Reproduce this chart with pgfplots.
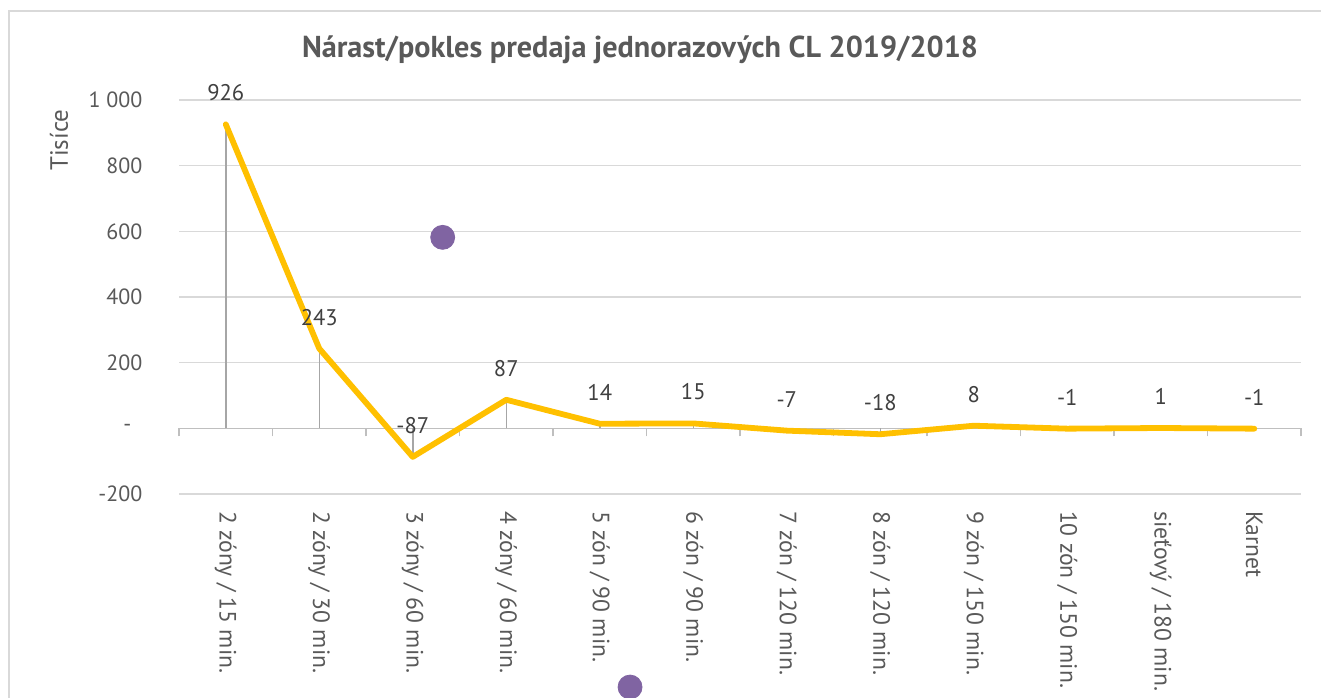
\documentclass[border=0pt]{standalone}
\usepackage{pgfplots}
\pgfplotsset{compat=1.18}
\usepackage{pgfplotstable}
\usepackage{fontspec}
\setmainfont{PT Sans}
\definecolor{txt}{HTML}{595959}
\definecolor{lab}{HTML}{404040}
\definecolor{gridc}{HTML}{D9D9D9}
\definecolor{axc}{HTML}{BFBFBF}
\definecolor{gold}{HTML}{FFC000}
\definecolor{purp}{HTML}{8064A2}
\definecolor{dropc}{HTML}{A6A6A6}

\pgfplotstableread{
x y lab
0 926 926
1 243 243
2 -87 -87
3 87 87
4 14 14
5 15 15
6 -7 -7
7 -18 -18
8 8 8
9 -1 -1
10 1 1
11 -1 -1
}\data

\pgfplotstableread{
x y
2.32 581.7
4.324 -788
}\extra

\begin{document}
\begin{tikzpicture}[x=1pt,y=1pt]
\clip (0,0) rectangle (660.5,348.5);
\fill[white] (0,0) rectangle (660.5,348.5);
\draw[gridc, line width=0.75pt] (4.5,-10) -- (4.5,343) -- (670,343);

\node[text=txt, font=\bfseries\fontsize{15.1}{17}\selectfont] at (320,323.5) {Nárast/pokles predaja jednorazových CL 2019/2018};
\node[text=txt, rotate=90, font=\fontsize{12.5}{14}\selectfont] at (29.5,278.5) {Tisíce};

\begin{axis}[
  at={(89.5pt,101.5pt)}, anchor=south west,
  scale only axis, width=561pt, height=197pt,
  xmin=-0.5, xmax=11.5, ymin=-200, ymax=1000,
  axis line style={draw=none},
  ytick={-200,0,200,400,600,800,1000},
  yticklabels={-200,{-\hspace*{5.5pt}},200,400,600,800,{1\ 000}},
  ymajorgrids, major grid style={gridc, line width=0.75pt},
  major tick length=0pt,
  yticklabel style={font=\fontsize{11}{13}\selectfont, text=txt, xshift=-14.8pt},
  xtick={0,...,11},
  xticklabels={2 zóny / 15 min., 2 zóny / 30 min., 3 zóny / 60 min., 4 zóny / 60 min., 5 zón / 90 min., 6 zón / 90 min., 7 zón / 120 min., 8 zón / 120 min., 9 zón / 150 min., 10 zón / 150 min., sieťový / 180 min., Karnet},
  xticklabel style={rotate=-90, anchor=west, font=\fontsize{11.8}{13}\selectfont, text=txt},
  xticklabel shift=5pt,
]
\end{axis}

\begin{axis}[
  at={(89.5pt,101.5pt)}, anchor=south west,
  scale only axis, width=561pt, height=197pt,
  xmin=-0.5, xmax=11.5, ymin=-200, ymax=1000,
  axis x line=middle, axis y line=none,
  axis line style={axc, line width=0.75pt, -},
  xtick={-0.5,0.5,...,11.5}, xticklabels={},
  xtick align=outside, major tick length=4pt,
  tick style={axc, line width=0.75pt},
  ytick=\empty,
  clip=false,
]
\addplot[dropc, line width=0.75pt, ycomb, mark=none, forget plot] table[x=x,y=y]{\data};
\addplot[gold, line width=2.9pt, line join=round, line cap=round, mark=none,
  nodes near coords, point meta=explicit symbolic,
  every node near coord/.append style={font=\fontsize{11.3}{13}\selectfont, text=lab, anchor=south, yshift=6.8pt}]
  table[x=x,y=y,meta=lab]{\data};
\addplot[only marks, mark=*, mark size=6pt, color=purp, mark options={fill=purp, draw=purp}] table[x=x,y=y]{\extra};
\end{axis}
\end{tikzpicture}
\end{document}
